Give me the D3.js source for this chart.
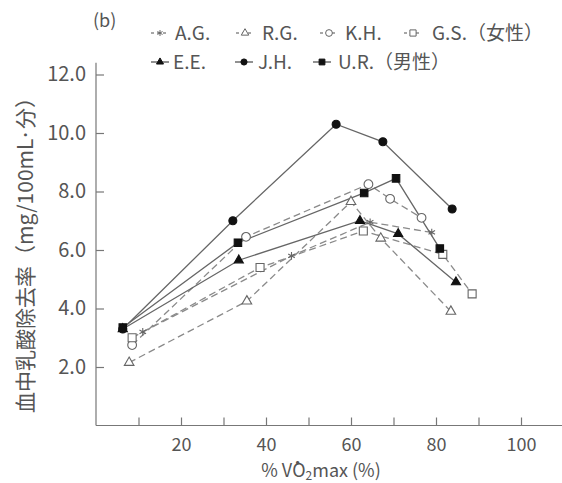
<!DOCTYPE html>
<html>
<head>
<meta charset="utf-8">
<script src="https://cdn.jsdelivr.net/npm/d3@7"></script>
<style>
  body { margin: 0; background: #fff; }
  text { font-family: "Noto Sans CJK JP", "Noto Sans", sans-serif; fill: #555; }
</style>
</head>
<body>
<div id="chart"></div>
<script>
// % VO2max vs. blood lactate removal rate, per subject
const names = ['A.G.', 'R.G.', 'K.H.', 'G.S.', 'E.E.', 'J.H.', 'U.R.']
const agPts = [[11, 3.2], [46, 5.8], [64.5, 6.95], [79, 6.6]]
const rgPts = [[7.8, 2.15], [35.5, 4.25], [60, 7.65], [67, 6.4], [83.5, 3.9]]
const khPts = [[8.5, 2.75], [35.3, 6.45], [64.1, 8.25], [69.2, 7.75], [76.6, 7.1]]
const gsPts = [[8.5, 3.0], [38.6, 5.4], [62.9, 6.65], [81.6, 5.85], [88.5, 4.5]]
const eePts = [[6.3, 3.3], [33.6, 5.65], [62.1, 7.0], [71.1, 6.55], [84.7, 4.9]]
const jhPts = [[6.3, 3.3], [32.2, 7.0], [56.5, 10.3], [67.5, 9.7], [83.8, 7.4]]
const urPts = [[6.3, 3.35], [33.4, 6.25], [63.1, 7.95], [70.6, 8.45], [80.9, 6.05]]
const yTicks = [2, 4, 6, 8, 10, 12]
const xTicks = [10, 20, 30, 40, 50, 60, 70, 80, 90, 100]
const xLabels = [20, 40, 60, 80, 100]

const WIDTH = 562
const HEIGHT = 483

const series = [
  { name: 'A.G.', pts: agPts, sym: d3.symbolAsterisk, size: 40, filled: false, dashed: true },
  { name: 'R.G.', pts: rgPts, sym: d3.symbolTriangle, size: 40, filled: false, dashed: true },
  { name: 'K.H.', pts: khPts, sym: d3.symbolCircle, size: 60, filled: false, dashed: true },
  { name: 'G.S.', pts: gsPts, sym: d3.symbolSquare, size: 64, filled: false, dashed: true },
  { name: 'E.E.', pts: eePts, sym: d3.symbolTriangle, size: 36, filled: true, dashed: false },
  { name: 'J.H.', pts: jhPts, sym: d3.symbolCircle, size: 50, filled: true, dashed: false },
  { name: 'U.R.', pts: urPts, sym: d3.symbolSquare, size: 56, filled: true, dashed: false }
]

const svg = d3.select('#chart')
  .append('svg')
    .attr('width', WIDTH)
    .attr('height', HEIGHT)

const x = d3.scaleLinear().domain([0, 110]).range([96, 563.5])
const y = d3.scaleLinear().domain([0, 12]).range([425.5, 74.5])

// axes
const yAxis = svg.append('g')
  .attr('transform', `translate(${x(0)},0)`)
  .call(d3.axisLeft(y).tickValues(yTicks).tickFormat(d3.format('.1f'))
    .tickSizeInner(-8).tickSizeOuter(0).tickPadding(10))
yAxis.select('.domain').attr('d', `M0,${y(0)}V${y(12.4)}`)

const xAxis = svg.append('g')
  .attr('transform', `translate(0,${y(0)})`)
  .call(d3.axisBottom(x).tickValues(xTicks)
    .tickFormat(d => xLabels.includes(d) ? d : '')
    .tickSizeInner(-8).tickSizeOuter(0).tickPadding(13))
xAxis.select('.domain').attr('d', `M${x(0)},0H${WIDTH}`)

svg.selectAll('.domain, .tick line').attr('stroke', '#777').attr('stroke-width', 1.2)
yAxis.selectAll('text').style('font-size', '20px').style('fill', '#555')
xAxis.selectAll('text').style('font-size', '18px').style('fill', '#555')

// lines
const line = d3.line().x(d => x(d[0])).y(d => y(d[1]))

svg.append('g')
  .selectAll('path')
  .data(series)
  .join('path')
    .attr('d', d => line(d.pts))
    .attr('fill', 'none')
    .attr('stroke', d => d.dashed ? '#8a8a8a' : '#666')
    .attr('stroke-width', 1.3)
    .attr('stroke-dasharray', d => d.dashed ? '7,4' : null)

// markers
const markers = svg.append('g')
series.forEach(s => {
  markers.append('g')
    .selectAll('path')
    .data(s.pts)
    .join('path')
      .attr('transform', d => `translate(${x(d[0])},${y(d[1])})`)
      .attr('d', d3.symbol(s.sym, s.size))
      .attr('fill', s.filled ? '#111' : '#fff')
      .attr('stroke', s.filled ? '#111' : '#666')
      .attr('stroke-width', 1.1)
})

// legend
svg.append('text')
  .attr('x', 93).attr('y', 27)
  .style('font-size', '18px')
  .text('(b)')

const legendPos = [
  [160, 33, 175], [245, 33, 262], [329, 33, 345], [413, 33, 432],
  [160, 62, 173], [244, 62, 258], [322, 62, 338]
]
const legendLabels = ['A.G.', 'R.G.', 'K.H.', 'G.S.（女性）', 'E.E.', 'J.H.', 'U.R.（男性）']

series.forEach((s, i) => {
  const [cx, cy, tx] = legendPos[i]
  const g = svg.append('g')
  g.append('line')
    .attr('x1', cx - 9).attr('x2', cx + 9)
    .attr('y1', cy).attr('y2', cy)
    .attr('stroke', s.dashed ? '#8a8a8a' : '#555')
    .attr('stroke-width', 1.3)
    .attr('stroke-dasharray', s.dashed ? '3,3' : null)
  g.append('path')
    .attr('transform', `translate(${cx},${cy})`)
    .attr('d', d3.symbol(s.sym, s.size * 0.6))
    .attr('fill', s.filled ? '#111' : '#fff')
    .attr('stroke', s.filled ? '#111' : '#666')
    .attr('stroke-width', 1)
  g.append('text')
    .attr('x', tx).attr('y', cy + 7)
    .style('font-size', '19px')
    .text(legendLabels[i])
})

// axis titles
svg.append('text')
  .attr('transform', 'translate(33,250) rotate(-90)')
  .attr('text-anchor', 'middle')
  .style('font-size', '21px')
  .text('血中乳酸除去率（mg/100mL·分）')

const xt = svg.append('text')
  .attr('x', 321).attr('y', 477)
  .attr('text-anchor', 'middle')
  .style('font-size', '18px')
xt.append('tspan').text('% V\u0307O')
xt.append('tspan').attr('dy', 3).style('font-size', '12px').text('2')
xt.append('tspan').attr('dy', -3).text('max (%)')
</script>
</body>
</html>
